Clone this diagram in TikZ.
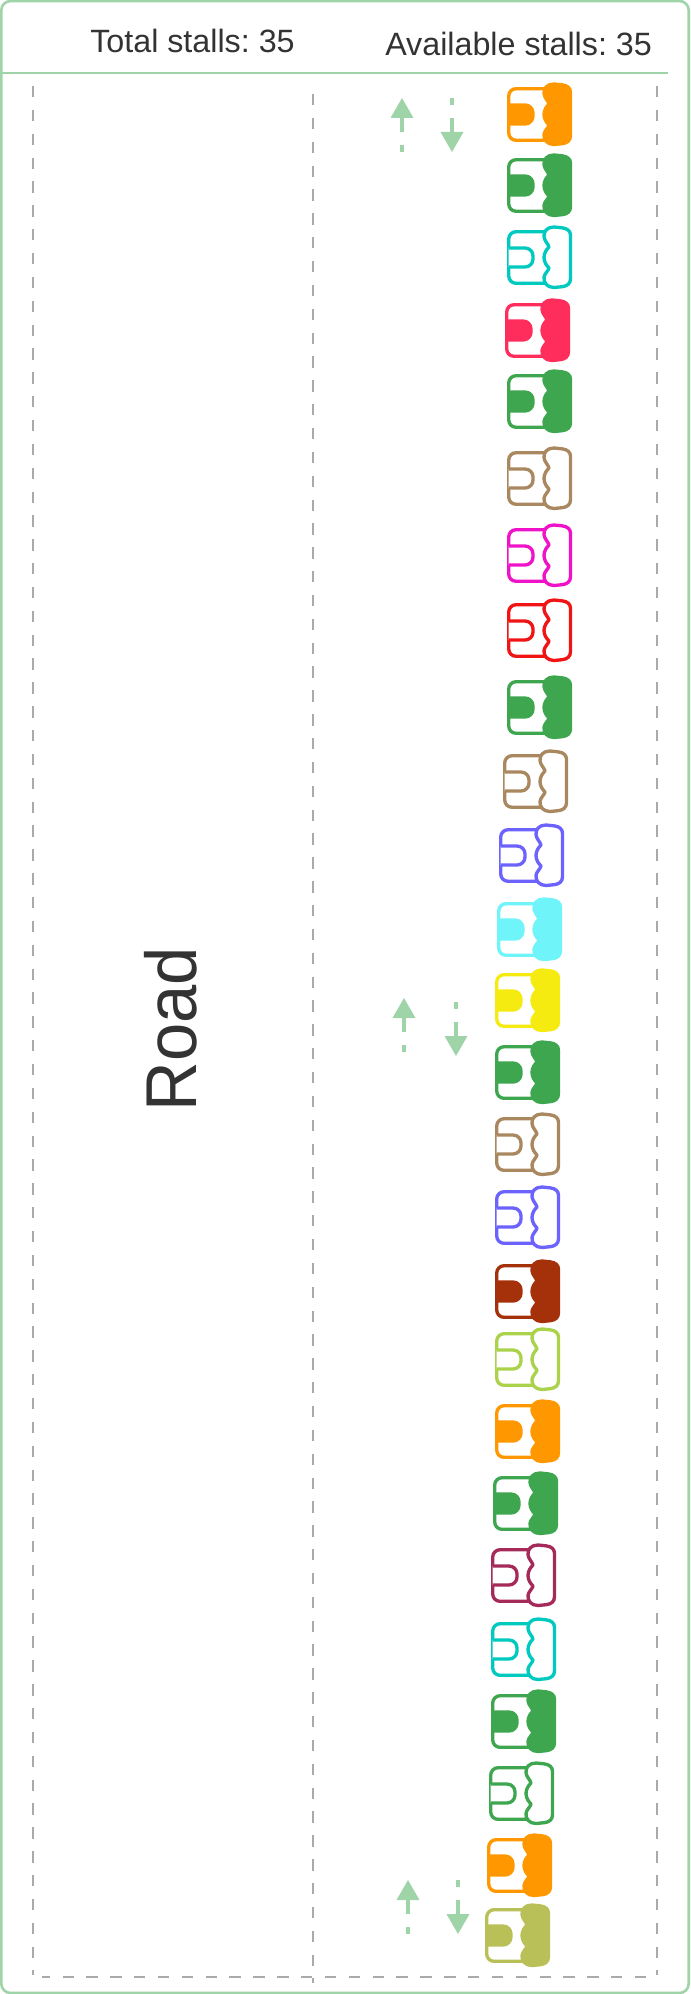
\documentclass[tikz,border=0pt]{standalone}
\usepackage{fontspec}
\setmainfont{Liberation Sans}
\frenchspacing
\definecolor{frameg}{HTML}{9FD4A8}
\definecolor{dashg}{HTML}{AAAAAA}
\definecolor{inkg}{HTML}{333333}
\definecolor{corange}{HTML}{FF9800}
\definecolor{cgreen}{HTML}{3DA64E}
\definecolor{cteal}{HTML}{00C9C0}
\definecolor{cpink}{HTML}{FF2D5B}
\definecolor{ctan}{HTML}{A98860}
\definecolor{cmagenta}{HTML}{F012C8}
\definecolor{cred}{HTML}{F01414}
\definecolor{cviolet}{HTML}{6C63FF}
\definecolor{ccyan}{HTML}{6FF4FA}
\definecolor{cyellow}{HTML}{F5EB10}
\definecolor{crust}{HTML}{A5310A}
\definecolor{clime}{HTML}{AAD24A}
\definecolor{cmaroon}{HTML}{A52A5A}
\definecolor{colive}{HTML}{B9C058}
\tikzset{
  frameline/.style={draw=frameg,line width=1.95pt},
  laneline/.style={draw=dashg,line width=1.35pt,dash pattern=on 8.5pt off 9.39pt},
  arrowpart/.style={frameg},
  label/.style={text=inkg,inner sep=0pt,anchor=base west,font=\fontsize{24.2pt}{28pt}\selectfont},
  stallline/.style={line width=2.5pt,line join=round},
}
\newcommand{\stall}[4]{%
\begin{scope}[shift={(#1,#2+0.5)}]
 \draw[stallline,draw=#3,rounded corners=5.5pt] (44,6.2) -- (1.7,6.2) -- (1.7,57.8) -- (44,57.8);
 \draw[stallline,draw=#3,fill=#4,rounded corners=6pt] (1.7,22.5) -- (26,22.5) -- (26,41.5) -- (1.7,41.5);
 \draw[stallline,draw=#3,fill=#4] (47,1.5) .. controls (40,1.5) and (36.5,6) .. (37,11)
   .. controls (37.4,15.5) and (41,18) .. (42,21.5)
   .. controls (39.5,24) and (37,27.5) .. (37,32)
   .. controls (37,36.5) and (39.5,40) .. (42,42.5)
   .. controls (41,46) and (37.4,48) .. (37,52)
   .. controls (36.5,57) and (40,62) .. (47,62)
   -- (55,61.2)
   .. controls (60.5,60.6) and (63.5,58) .. (63.5,53)
   -- (63.5,10)
   .. controls (63.5,5.5) and (60.5,3) .. (55,2.3) -- cycle;
\end{scope}}
\newcommand{\lanearrows}[4]{%
 \fill[arrowpart] (#1,#2) -- (#1-11.5,#2+20) -- (#1+11.5,#2+20) -- cycle;
 \fill[arrowpart] (#1-2,#2+20) rectangle (#1+2,#2+34);
 \fill[arrowpart] (#1-2,#2+47) rectangle (#1+2,#2+54);
 \fill[arrowpart] (#3-2,#4) rectangle (#3+2,#4+7);
 \fill[arrowpart] (#3-2,#4+20) rectangle (#3+2,#4+34);
 \fill[arrowpart] (#3-11.5,#4+34) -- (#3+11.5,#4+34) -- (#3,#4+54) -- cycle;
}
\begin{document}
\begin{tikzpicture}[x=0.75pt,y=-0.75pt]
\useasboundingbox (0,0) rectangle (690,1994);
\draw[frameline,rounded corners=7pt] (1.3,1) rectangle (688.7,1993);
\draw[frameline] (0,73) -- (668,73);
\node[label] (total) at (90,53) {Total stalls: 35};
\node[label] (avail) at (385,55.5) {Available stalls: 35};
\node[text=inkg,inner sep=0pt,anchor=base,rotate=90,font=\fontsize{54pt}{60pt}\selectfont] (road) at (196,1029) {\scalebox{0.955}[1]{Road}};
\draw[laneline] (33,86) -- (33,1975);
\draw[laneline] (313,94) -- (313,1983);
\draw[laneline] (657,86) -- (657,1975);
\draw[laneline,dash phase=2.5pt] (42,1977) -- (646,1977);
\lanearrows{402}{98}{452}{98}
\lanearrows{404}{998}{456}{1002}
\lanearrows{408}{1880}{458}{1880}
\stall{507}{82}{corange}{corange}
\stall{507}{153}{cgreen}{cgreen}
\stall{507}{225}{cteal}{white}
\stall{505}{298}{cpink}{cpink}
\stall{507}{369}{cgreen}{cgreen}
\stall{507}{446}{ctan}{white}
\stall{507}{523}{cmagenta}{white}
\stall{507}{598}{cred}{white}
\stall{507}{675}{cgreen}{cgreen}
\stall{503}{749}{ctan}{white}
\stall{499}{823}{cviolet}{white}
\stall{497}{897}{ccyan}{ccyan}
\stall{495}{968}{cyellow}{cyellow}
\stall{495}{1040}{cgreen}{cgreen}
\stall{495}{1112}{ctan}{white}
\stall{495}{1185}{cviolet}{white}
\stall{495}{1259}{crust}{crust}
\stall{495}{1327}{clime}{white}
\stall{495}{1399}{corange}{corange}
\stall{493}{1471}{cgreen}{cgreen}
\stall{491}{1543}{cmaroon}{white}
\stall{491}{1617}{cteal}{white}
\stall{491}{1689}{cgreen}{cgreen}
\stall{489}{1761}{cgreen}{white}
\stall{487}{1833}{corange}{corange}
\stall{485}{1903}{colive}{colive}
\end{tikzpicture}
\end{document}
